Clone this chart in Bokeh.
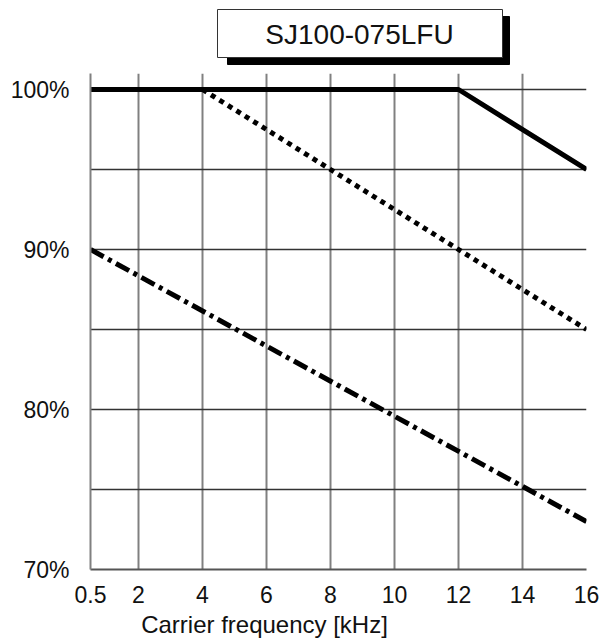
from bokeh.plotting import figure
from bokeh.models import FixedTicker, Range1d
from bokeh.layouts import column
from bokeh.core.properties import value
from bokeh.embed import file_html
from bokeh.resources import INLINE

# ---- data ----
solid_x = [0.5, 12, 16]
solid_y = [100, 100, 95]
dotted_x = [4, 16]
dotted_y = [100, 85]
dashdot_x = [0.5, 16]
dashdot_y = [90, 73]

x_ticks = [0.5, 2, 4, 6, 8, 10, 12, 14, 16]
x_tick_labels = ["0.5", "2", "4", "6", "8", "10", "12", "14", "16"]
y_ticks = [70, 80, 90, 100]
y_minor = [75, 85, 95]
y_tick_labels = ["70%", "80%", "90%", "100%"]
title_text = "SJ100-075LFU"
x_label = "Carrier frequency [kHz]"

FONT = "Liberation Sans"
W = 611
FL, FR = 90, 586  # frame left/right in page pixels (frames are aligned in the column)

# ---- title strip (pixel coordinates, y downward) ----
t = figure(width=W, height=73, output_backend="svg", toolbar_location=None,
           x_range=Range1d(FL, FR), y_range=Range1d(73, 0),
           min_border=0, x_axis_type=None, y_axis_type=None)
t.outline_line_color = None
t.grid.visible = False
t.quad(left=227, right=509, top=16, bottom=64, fill_color="black", line_color="black")
t.quad(left=217, right=502, top=9, bottom=57, fill_color="white", line_color="#333333",
       line_width=1)
t.text(x=[359], y=[34], text=[title_text], text_align="center", text_baseline="middle",
       text_font=value(FONT), text_font_size="28px", text_color="#111111")

# ---- main chart ----
p = figure(width=W, height=536, output_backend="svg", toolbar_location=None,
           x_range=Range1d(0.5, 16), y_range=Range1d(70, 101),
           min_border_left=90, min_border_top=0, min_border_bottom=40,
           min_border_right=25)
p.outline_line_color = None
p.background_fill_color = "white"

p.xaxis.ticker = FixedTicker(ticks=x_ticks)
p.xaxis.major_label_overrides = {tk: lb for tk, lb in zip(x_ticks, x_tick_labels)}
p.yaxis.ticker = FixedTicker(ticks=y_ticks, minor_ticks=y_minor)
p.yaxis.major_label_overrides = {tk: lb for tk, lb in zip(y_ticks, y_tick_labels)}
for ax in (p.xaxis, p.yaxis):
    ax.major_tick_line_color = None
    ax.minor_tick_line_color = None
    ax.major_label_text_font = FONT
    ax.major_label_text_font_size = "23px"
    ax.major_label_text_color = "#111111"
p.xaxis.axis_line_color = "#555555"
p.xaxis.axis_line_width = 2
p.yaxis.axis_line_color = "#808080"
p.yaxis.axis_line_width = 2
p.xaxis.major_label_standoff = 10
p.yaxis.major_label_standoff = 15

p.xgrid.ticker = FixedTicker(ticks=x_ticks)
p.xgrid.grid_line_color = "#808080"
p.xgrid.grid_line_width = 2
p.ygrid.ticker = FixedTicker(ticks=y_ticks, minor_ticks=y_minor)
p.ygrid.grid_line_color = "#333333"
p.ygrid.grid_line_width = 1.5
p.ygrid.minor_grid_line_color = "#333333"
p.ygrid.minor_grid_line_width = 1.5

p.line(solid_x, solid_y, line_color="black", line_width=5)
p.line(dotted_x, dotted_y, line_color="black", line_width=5, line_dash="5 5")
p.line(dashdot_x, dashdot_y, line_color="black", line_width=5, line_dash="15 5 4 5")

# ---- x-axis label strip ----
b = figure(width=W, height=29, output_backend="svg", toolbar_location=None,
           x_range=Range1d(FL, FR), y_range=Range1d(29, 0),
           min_border=0, x_axis_type=None, y_axis_type=None)
b.outline_line_color = None
b.grid.visible = False
b.text(x=[264], y=[15], text=[x_label], text_align="center", text_baseline="middle",
       text_font=value(FONT), text_font_size="24px", text_color="#111111")

layout = column(t, p, b, spacing=0)
open("out.html", "w").write(file_html(layout, INLINE))
